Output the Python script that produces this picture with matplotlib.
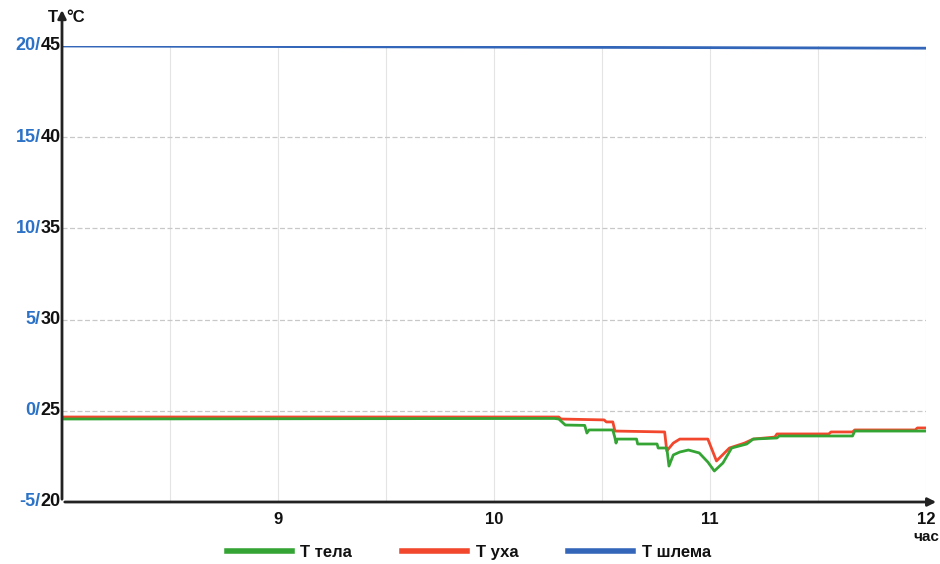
import matplotlib.pyplot as plt

# Temperature records over the shift (hours)
t_body = [8.00, 10.28, 10.30, 10.33, 10.42, 10.43, 10.44, 10.55, 10.56, 10.565,
          10.57, 10.66, 10.665, 10.755, 10.76, 10.80, 10.81, 10.83, 10.86, 10.90,
          10.95, 10.99, 11.02, 11.06, 11.10, 11.17, 11.20, 11.31, 11.32, 11.66,
          11.67, 12.00]
v_body = [-0.45, -0.42, -0.45, -0.78, -0.80, -1.22, -1.05, -1.05, -1.49, -1.77,
          -1.55, -1.55, -1.82, -1.82, -2.04, -2.04, -3.03, -2.42, -2.26, -2.15,
          -2.31, -2.81, -3.30, -2.86, -2.04, -1.82, -1.55, -1.49, -1.38, -1.38,
          -1.11, -1.11]

t_ear = [8.00, 10.30, 10.31, 10.51, 10.52, 10.55, 10.56, 10.79, 10.80, 10.83,
         10.86, 10.99, 11.03, 11.09, 11.16, 11.20, 11.30, 11.31, 11.55, 11.56,
         11.66, 11.67, 11.95, 11.96, 12.00]
v_ear = [-0.34, -0.34, -0.45, -0.50, -0.61, -0.61, -1.11, -1.16, -2.20, -1.77,
         -1.55, -1.55, -2.75, -2.04, -1.77, -1.55, -1.44, -1.27, -1.27, -1.16,
         -1.16, -1.05, -1.05, -0.94, -0.94]

t_helmet = [8.00, 12.00]
v_helmet = [20.0, 19.88]

y_ticks = [-5, 0, 5, 10, 15, 20]
y_left = ["-5/", "0/", "5/", "10/", "15/", "20/"]
y_right = ["20", "25", "30", "35", "40", "45"]
x_ticks = [9, 10, 11, 12]

GREEN = "#34a534"
RED = "#f2472c"
BLUE = "#3366b8"
LBLUE = "#2c72c6"

fig = plt.figure(figsize=(9.4, 5.64), dpi=100)
ax = fig.add_axes([62 / 940, 62 / 564, 864 / 940, 456 / 564])
ax.set_xlim(8, 12)
ax.set_ylim(-5, 20)

for x in [8.5, 9, 9.5, 10, 10.5, 11, 11.5, 12]:
    ax.axvline(x, color="#e4e4e4", lw=0.8, zorder=0)
for y in [0, 5, 10, 15]:
    ax.axhline(y, color="#c8c8c8", lw=0.9, ls=(0, (4, 2)), zorder=0)

ax.plot(t_helmet, v_helmet, color=BLUE, lw=2)
ax.plot(t_ear, v_ear, color=RED, lw=2)
ax.plot(t_body, v_body, color=GREEN, lw=2)

for s in ["top", "right", "left", "bottom"]:
    ax.spines[s].set_visible(False)
ax.set_xticks([])
ax.set_yticks([])

# axis arrows
ax.annotate("", xy=(1.015, 0), xytext=(0, 0), xycoords="axes fraction",
            arrowprops=dict(arrowstyle="-|>", color="#222222", lw=2, mutation_scale=12),
            annotation_clip=False)
ax.annotate("", xy=(0, 1.085), xytext=(0, 0), xycoords="axes fraction",
            arrowprops=dict(arrowstyle="-|>", color="#222222", lw=2, mutation_scale=12),
            annotation_clip=False)

font = dict(family="Liberation Sans", fontweight="bold", fontsize=13)

for y, a, b in zip(y_ticks, y_left, y_right):
    t = ax.annotate(b, xy=(0, y), xycoords=("axes fraction", "data"),
                    xytext=(-1, 0), textcoords="offset points",
                    ha="right", va="center", color="#111111", **font)
    ax.annotate(a, xy=(0, 0), xycoords=t, ha="right", va="bottom",
                color=LBLUE, **font)

for x in x_ticks:
    ax.annotate(str(x), xy=(x, 0), xycoords=("data", "axes fraction"),
                xytext=(0, -7), textcoords="offset points",
                ha="center", va="top", color="#111111",
                family="Liberation Sans", fontweight="bold", fontsize=12)

fig.text(0.999, 27 / 564, "час", ha="right", va="center", color="#111111",
         family="Liberation Sans", fontweight="bold", fontsize=11)
ax.annotate("T", xy=(0, 1.085), xycoords="axes fraction", xytext=(-3, -2),
            textcoords="offset points", ha="right", va="top", color="#111111",
            family="Liberation Sans", fontweight="bold", fontsize=12)
ax.annotate("°C", xy=(0, 1.085), xycoords="axes fraction", xytext=(3, -2),
            textcoords="offset points", ha="left", va="top", color="#111111",
            family="Liberation Sans", fontweight="bold", fontsize=12)

leg = fig.legend(handles=[plt.Line2D([], [], color=GREEN, lw=4),
                          plt.Line2D([], [], color=RED, lw=4),
                          plt.Line2D([], [], color=BLUE, lw=4)],
                 labels=["T тела", "T уха", "T шлема"], ncol=3,
                 loc="lower left", bbox_to_anchor=(212 / 940, -0.02),
                 frameon=False, handlelength=3.9, columnspacing=3.0,
                 handletextpad=0.5,
                 prop=dict(family="Liberation Sans", weight="bold", size=12))
for txt in leg.get_texts():
    txt.set_color("#111111")

fig.savefig("out.png", dpi=100)
